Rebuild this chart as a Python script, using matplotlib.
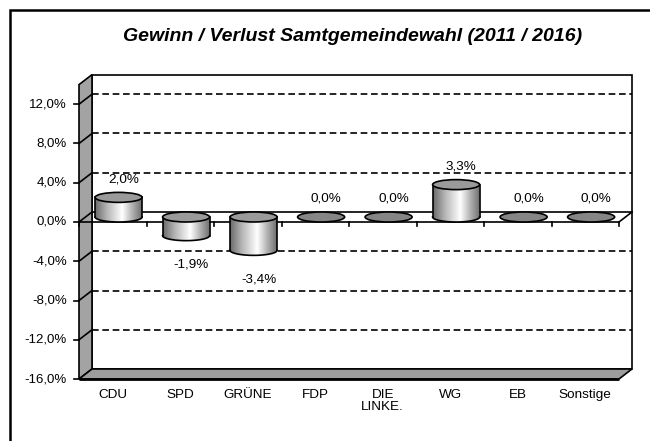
import numpy as np
import matplotlib
matplotlib.use("Agg")
import matplotlib.pyplot as plt
from matplotlib.patches import Polygon, Ellipse
from matplotlib.colors import LinearSegmentedColormap
from matplotlib.lines import Line2D
import matplotlib.transforms as mtransforms

# ---------------- data ----------------
categories = ["CDU", "SPD", "GRÜNE", "FDP", "DIE\nLINKE.", "WG", "EB", "Sonstige"]
values = [2.0, -1.9, -3.4, 0.0, 0.0, 3.3, 0.0, 0.0]
yticks = [-16, -12, -8, -4, 0, 4, 8, 12]
title = "Gewinn / Verlust Samtgemeindewahl (2011 / 2016)"
ymin_v, ymax_v = -16, 14

# ---------------- layout (pixels) ----------------
W, H = 650, 441
FX0, FX1 = 79, 619          # front plane x extent
Y0PX, YMINPX = 222, 379     # pixel rows of 0% and -16% on the front plane
ppc = (FX1 - FX0) / len(categories)
ppp = (YMINPX - Y0PX) / (0 - ymin_v)
DX = 13.0 / ppc             # depth offset in category units
DY = 10.0 / ppp             # depth offset in % units
A = 23.5 / ppc              # cylinder half width
B = 5.0 / ppp               # cylinder ellipse half height

plt.rcParams['font.family'] = ['Liberation Sans', 'DejaVu Sans']
fig = plt.figure(figsize=(W / 100, H / 100), dpi=100)
ax = fig.add_axes([0, 0, 1, 1])
ax.set_axis_off()
xlim = (-0.5 - FX0 / ppc, -0.5 + (W - FX0) / ppc)
ylim = (-(H - Y0PX) / ppp, Y0PX / ppp)

x0, x1 = -0.5, len(categories) - 0.5
LW = 1.2
dash = (0, (4, 2.2))

# outer frame (partially visible)
fig.add_artist(Line2D([10 / W, 10 / W, (W - 0.5) / W], [0.5 / H, 1 - 10 / H, 1 - 10 / H],
                      transform=fig.transFigure, color='black', lw=1.8,
                      solid_capstyle='butt', solid_joinstyle='miter'))

# back wall
ax.add_patch(Polygon([(x0 + DX, ymin_v + DY), (x1 + DX, ymin_v + DY),
                      (x1 + DX, ymax_v + DY), (x0 + DX, ymax_v + DY)],
                     closed=True, facecolor='white', edgecolor='black', lw=LW, zorder=1))
# side wall
ax.add_patch(Polygon([(x0, ymin_v), (x0, ymax_v), (x0 + DX, ymax_v + DY), (x0 + DX, ymin_v + DY)],
                     closed=True, facecolor='#a3a3a3', edgecolor='black', lw=LW, zorder=2))
# floor
ax.add_patch(Polygon([(x0, ymin_v), (x1, ymin_v), (x1 + DX, ymin_v + DY), (x0 + DX, ymin_v + DY)],
                     closed=True, facecolor='#9c9c9c', edgecolor='black', lw=LW, zorder=2))
ax.plot([x0, x1], [ymin_v, ymin_v], color='black', lw=2.0, zorder=3, solid_capstyle='butt')

# gridlines
for v in yticks:
    if v in (ymin_v, 0):
        continue
    ax.plot([x0 + DX, x1 + DX], [v + DY, v + DY], color='black', lw=LW, linestyle=dash, zorder=2)
    ax.plot([x0, x0 + DX], [v, v + DY], color='black', lw=LW, zorder=3)

# zero plane lines
ax.plot([x0 + DX, x1 + DX], [DY, DY], color='black', lw=LW, zorder=3)
ax.plot([x0, x0 + DX], [0, DY], color='black', lw=LW, zorder=3)
ax.plot([x1, x1 + DX], [0, DY], color='black', lw=LW, zorder=3)
ax.plot([x0, x1], [0, 0], color='black', lw=LW, zorder=3)
for i in range(len(categories) + 1):
    bx = x0 + i
    ax.plot([bx, bx], [0, -4 / ppp], color='black', lw=LW, zorder=3)

# y ticks & labels
for v in yticks:
    ax.plot([x0 - 5 / ppc, x0], [v, v], color='black', lw=LW, zorder=3)
    ax.text(x0 - 12 / ppc, v, f"{v:.1f}%".replace('.', ','), ha='right', va='center',
            fontsize=9.5, color='black')

# category labels
lab_tr = mtransforms.offset_copy(ax.transData, fig=fig, x=0, y=-10, units='dots')
for i, c in enumerate(categories):
    ax.text(i, ymin_v, c, ha='center', va='top', fontsize=9.7, transform=lab_tr,
            linespacing=1.05)

# cylinders
cmap = LinearSegmentedColormap.from_list(
    'cyl', [(0, '#6a6a6a'), (0.25, '#b4b4b4'), (0.58, '#ffffff'), (0.8, '#b0b0b0'), (1, '#6e6e6e')])
grad = np.linspace(0, 1, 256).reshape(1, -1)
theta = np.linspace(np.pi, 2 * np.pi, 60)
base = DY / 2
for i, v in enumerate(values):
    c = i + DX * 0.45
    top_c = max(v, 0) + base
    bot_c = min(v, 0) + base
    if abs(v) > 1e-9:
        pts = [(c - A, top_c)] + [(c + A * np.cos(t), bot_c + B * np.sin(t)) for t in theta] + [(c + A, top_c)]
        body = Polygon(pts, closed=True, facecolor='none', edgecolor='none', zorder=4)
        ax.add_patch(body)
        im = ax.imshow(grad, extent=[c - A, c + A, bot_c - B, top_c], aspect='auto', cmap=cmap,
                       zorder=4, interpolation='bilinear')
        im.set_clip_path(body)
        ax.plot([c + A * np.cos(t) for t in theta], [bot_c + B * np.sin(t) for t in theta],
                color='black', lw=LW, zorder=5)
        ax.plot([c - A, c - A], [bot_c, top_c], color='black', lw=LW, zorder=5)
        ax.plot([c + A, c + A], [bot_c, top_c], color='black', lw=LW, zorder=5)
        fc = '#9a9a9a'
    else:
        fc = '#858585'
    ax.add_patch(Ellipse((c, top_c), 2 * A, 2 * B, facecolor=fc, edgecolor='black', lw=LW, zorder=6))
    # data label
    txt = f"{v:.1f}%".replace('.', ',')
    if v >= 0:
        ly = top_c + B + 13 / ppp
    else:
        ly = bot_c - B - 24 / ppp
    ax.text(c + 5 / ppc, ly, txt, ha='center', va='center', fontsize=9.7, zorder=7)

# title
ax.text(xlim[0] + 353 / ppc, ylim[1] - 37 / ppp, title, ha='center', va='center',
        fontsize=14, fontweight='bold', fontstyle='italic')

ax.set_xlim(*xlim)
ax.set_ylim(*ylim)
ax.set_aspect('auto')
fig.savefig("out.png", dpi=100)
